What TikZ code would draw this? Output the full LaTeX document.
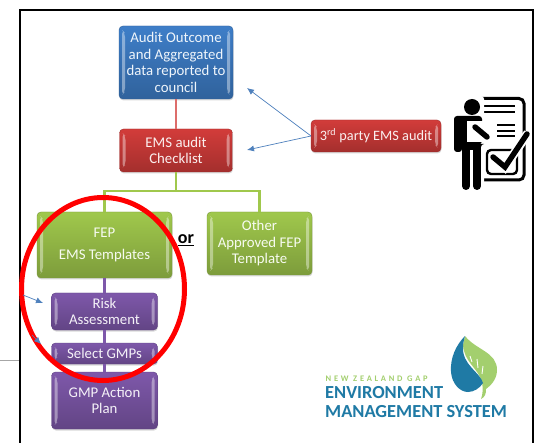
\documentclass[tikz,border=0pt]{standalone}
\usepackage{fontspec}
\setmainfont{Carlito}
\newfontfamily\logospaced[LetterSpace=32]{Carlito}
\usetikzlibrary{positioning}
\usetikzlibrary{shadows}
\usetikzlibrary{arrows.meta}
\definecolor{bluebox}{RGB}{62,126,200}
\definecolor{redbox}{RGB}{210,60,58}
\definecolor{greenbox}{RGB}{160,200,76}
\definecolor{purplebox}{RGB}{126,88,170}
\definecolor{arrowblue}{RGB}{79,129,189}
\definecolor{logoblue}{RGB}{31,122,165}
\definecolor{logogreen}{RGB}{163,207,110}
\tikzset{
  gloss/.style={rounded corners=4pt, align=center, inner sep=0pt, outer sep=0pt,
    font=\fontsize{14.8}{16.5}\selectfont, text=white!92!#1,
    top color=#1, bottom color=#1!78!black, draw=#1!75!black, line width=0.4pt,
    drop shadow={opacity=.3, shadow xshift=0.5pt, shadow yshift=-1.5pt},
    path picture={
      \fill[white,opacity=.4] ([xshift=3pt,yshift=-4pt]path picture bounding box.north west) -- ([xshift=6pt,yshift=-7pt]path picture bounding box.north west) -- ([xshift=6pt,yshift=7pt]path picture bounding box.south west) -- ([xshift=3pt,yshift=4pt]path picture bounding box.south west) -- cycle;
      \fill[white,opacity=.4] ([xshift=-3pt,yshift=-4pt]path picture bounding box.north east) -- ([xshift=-6pt,yshift=-7pt]path picture bounding box.north east) -- ([xshift=-6pt,yshift=7pt]path picture bounding box.south east) -- ([xshift=-3pt,yshift=4pt]path picture bounding box.south east) -- cycle;
    }},
  link/.style={line width=2.4pt, draw=#1},
  pointer/.style={-{Latex[length=7pt,width=6pt]}, draw=arrowblue, line width=0.7pt}
}
\begin{document}
\begin{tikzpicture}[x=1pt,y=-1pt]
      \useasboundingbox (0,0) rectangle (535,443);
      \fill[white] (0,0) rectangle (535,443);
      \draw[black!35, line width=0.8pt] (0,360) -- (20,360);
      \draw[line width=2pt] (20,443) -- (20,10) -- (533,10) -- (533,443);
      \node[gloss=bluebox, minimum width=114pt, minimum height=73pt] (audit) at (176,62.5) {Audit Outcome\\and Aggregated\\data reported to\\council};
      \node[gloss=redbox, minimum width=113pt, minimum height=43pt, below=30pt of audit] (checklist) {EMS audit\\Checklist};
      \node[gloss=greenbox, minimum width=135pt, minimum height=66pt] (fep) at (104.5,245) {FEP\\[5pt]EMS Templates};
      \node[gloss=greenbox, minimum width=105pt, minimum height=63pt, right=35pt of fep.north east, anchor=north west] (other) {Other\\Approved FEP\\Template};
      \node[gloss=purplebox, minimum width=106pt, minimum height=37pt, below=15pt of fep] (risk) {Risk\\Assessment};
      \node[gloss=purplebox, minimum width=106pt, minimum height=21pt, below=13pt of risk] (select) {Select GMPs};
      \node[gloss=purplebox, minimum width=106pt, minimum height=57pt, below=8pt of select] (action) {GMP Action\\Plan};
      \node[gloss=redbox, minimum width=130pt, minimum height=32pt, font=\fontsize{14.3}{16}\selectfont] (party) at (376,136) {3\textsuperscript{rd} party EMS audit};
      \node[font=\fontsize{18}{20}\selectfont\bfseries] (ortext) at (186,240) {\underline{or}};
      \coordinate (bus) at (176,191);
      \coordinate (toaudit) at (247,88);
      \coordinate (tocheck) at (247,150);
      \coordinate (riskfrom) at (23,295);
      \coordinate (riskto) at (43,303);
      \coordinate (selectfrom) at (32,335);
      \coordinate (selectto) at (41,344);
      \draw[link=redbox!75!white] (audit) -- (checklist);
      \draw[link=greenbox] (checklist) -- (bus);
      \draw[link=greenbox] (bus) -| (fep);
      \draw[link=greenbox] (bus) -| (other);
      \draw[link=purplebox] (fep) -- (risk);
      \draw[link=purplebox] (risk) -- (select);
      \draw[link=purplebox] (select) -- (action);
      \draw[pointer] (party.west) -- (toaudit);
      \draw[pointer] (party.west) -- (tocheck);
      \draw[red, line width=5pt] (103,289) ellipse [x radius=81.5, y radius=91.5];
      \draw[pointer] (riskfrom) -- (riskto);
      \draw[pointer] (selectfrom) -- (selectto);
      % person with checklist
      \draw[line width=3pt, rounded corners=5pt] (459,102) -- (459,98.5) -- (524,98.5) -- (524,180) -- (480,180);
      \draw[line width=1.6pt] (478,106) -- (515,106) (478,112) -- (515,112) (497,125) -- (515,125) (497,131) -- (515,131) (497,136) -- (515,136);
      \draw[line width=2.4pt, rounded corners=4pt] (487,150) rectangle (517,174);
      \fill[white, rounded corners=3pt] (451,96) rectangle (484,192);
      \fill (472,107) circle (8);
      \fill[rounded corners=3pt] (454,116) -- (482,116) -- (482,144) -- (481,144) -- (481,150) -- (462,150) -- (462,152) -- (454,152) -- cycle;
      \draw[line width=8pt, line cap=round] (466,186) -- (466,145) (477,186) -- (477,145);
      \fill[white] (467,121) rectangle (485,142);
      \draw[white, line width=9pt, line cap=round] (475,127) -- (489,138);
      \draw[line width=5.5pt, line cap=round] (475,127) -- (487,137);
      \draw[white, line width=9pt] (493,156) -- (505,167) -- (528,133);
      \draw[line width=5.5pt, line cap=round, line join=miter] (493,157) -- (505,167) -- (527,134);
      % logo
      \fill[logogreen] (465,336) .. controls (476,350) and (497,352) .. (497,370) .. controls (497,380) and (490,386) .. (486,389) .. controls (486,394) and (485,397) .. (481,399) .. controls (483,394) and (483,388) .. (482,382) .. controls (478,368) and (464,362) .. (463,345) -- cycle;
      \fill[logoblue] (465,336) .. controls (456,345) and (450,358) .. (451,372) .. controls (452,384) and (460,392) .. (468,392) .. controls (474,392) and (480,388) .. (483,383) .. controls (480,372) and (462,365) .. (463,347) .. controls (463,343) and (464,340) .. (465,336) -- cycle;
      \draw[white, line width=0.9pt] (472,362) -- (470,356) (478,368) -- (477,359) (482,374) -- (483,366);
      \node[anchor=base west, inner sep=0pt, text=logogreen, font=\fontsize{8.5}{9}\logospaced\bfseries] (logotop) at (325.5,381) {NEW ZEALAND GAP};
      \node[anchor=base west, inner sep=0pt, text=logoblue, font=\fontsize{18.4}{20}\selectfont\bfseries] (logomid) at (325,398) {ENVIRONMENT};
      \node[anchor=base west, inner sep=0pt, text=logoblue, font=\fontsize{18.4}{20}\selectfont\bfseries] (logobot) at (325,417) {MANAGEMENT SYSTEM};
\end{tikzpicture}
\end{document}
